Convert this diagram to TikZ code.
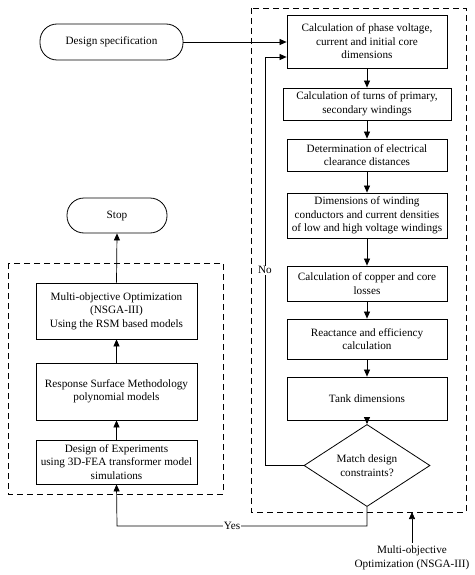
\documentclass[tikz,border=0pt]{standalone}
\usepackage{fontspec}
\setmainfont{Liberation Serif}
\usetikzlibrary{shapes.geometric,arrows.meta}
\begin{document}
\begin{tikzpicture}[x=1pt,y=-1pt,
  txt/.style={font=\fontsize{11.2}{13.5}\selectfont, align=center},
  box/.style={txt, draw, line width=0.8pt, inner sep=0pt},
  term/.style={box, rounded corners=17pt},
  dia/.style={txt, draw, line width=0.8pt, diamond, inner sep=0pt},
  conn/.style={line width=0.7pt, -{Triangle[length=7pt,width=6pt]}},
  dbox/.style={draw, line width=0.9pt, dash pattern=on 6pt off 4pt}
]
\useasboundingbox (0,0) rectangle (474,575);
\fill[white] (0,0) rectangle (474,575);

% dashed groups
\draw[dbox] (251,8) rectangle (466,512);
\draw[dbox] (8,263) rectangle (223,494);

% right column
\node[box, minimum width=160pt, minimum height=53pt] (b1) at (367,41.5) {Calculation of phase voltage,\\current and initial core\\dimensions};
\node[box, minimum width=168pt, minimum height=32pt] (b2) at (367,104) {Calculation of turns of primary,\\secondary windings};
\node[box, minimum width=160pt, minimum height=32pt] (b3) at (367,155) {Determination of electrical\\clearance distances};
\node[box, minimum width=160pt, minimum height=45pt] (b4) at (367,215.5) {Dimensions of winding\\conductors and current densities\\of low and high voltage windings};
\node[box, minimum width=160pt, minimum height=35pt] (b5) at (367,283.5) {Calculation of copper and core\\losses};
\node[box, minimum width=160pt, minimum height=40pt] (b6) at (367,339) {Reactance and efficiency\\calculation};
\node[box, minimum width=160pt, minimum height=43pt] (b7) at (367,398.5) {Tank dimensions};
\node[dia, minimum width=126pt, minimum height=67pt] (d) at (367,465.5) {Match design\\constraints?};

% left column
\node[term, minimum width=143pt, minimum height=36pt] (ds) at (111.5,42) {Design specification};
\node[term, minimum width=100pt, minimum height=35pt] (stop) at (117,215.5) {Stop};
\node[box, minimum width=161pt, minimum height=56pt] (moo) at (116.5,311) {Multi-objective Optimization\\(NSGA-III)\\Using the RSM based models};
\node[box, minimum width=161pt, minimum height=57pt] (rsm) at (116.5,391.5) {Response Surface Methodology\\polynomial models};
\node[box, minimum width=161pt, minimum height=44pt] (doe) at (116.5,462) {Design of Experiments\\using 3D-FEA transformer model\\simulations};

\node[txt] (nsga) at (412,558) {Multi-objective\\Optimization (NSGA-III)};

% connectors
\draw[conn] (ds.east) -- (ds.east -| b1.west);
\foreach \a/\b in {b1/b2,b2/b3,b3/b4,b4/b5,b5/b6,b6/b7,b7/d}
  \draw[conn] (\a.south) -- (\b.north);
\draw[conn] (doe.north) -- (rsm.south);
\draw[conn] (rsm.north) -- (moo.south);
\draw[conn] (moo.north) -- (stop.south);

\coordinate (n1) at (265,465.5);
\coordinate (n2) at (265,57);
\draw[conn] (d.west) -- (n1) -- node[pos=0.478, fill=white, inner sep=1pt, txt]{No} (n2) -- (n2 -| b1.west);

\coordinate (y1) at (367,526);
\coordinate (y2) at (117,526);
\draw[conn] (d.south) -- (y1) -- node[pos=0.54, fill=white, inner sep=1pt, txt]{Yes} (y2) -- (doe.south);

\coordinate (rb) at (412,512);
\draw[conn] (nsga.north) -- (rb);
\end{tikzpicture}
\end{document}
